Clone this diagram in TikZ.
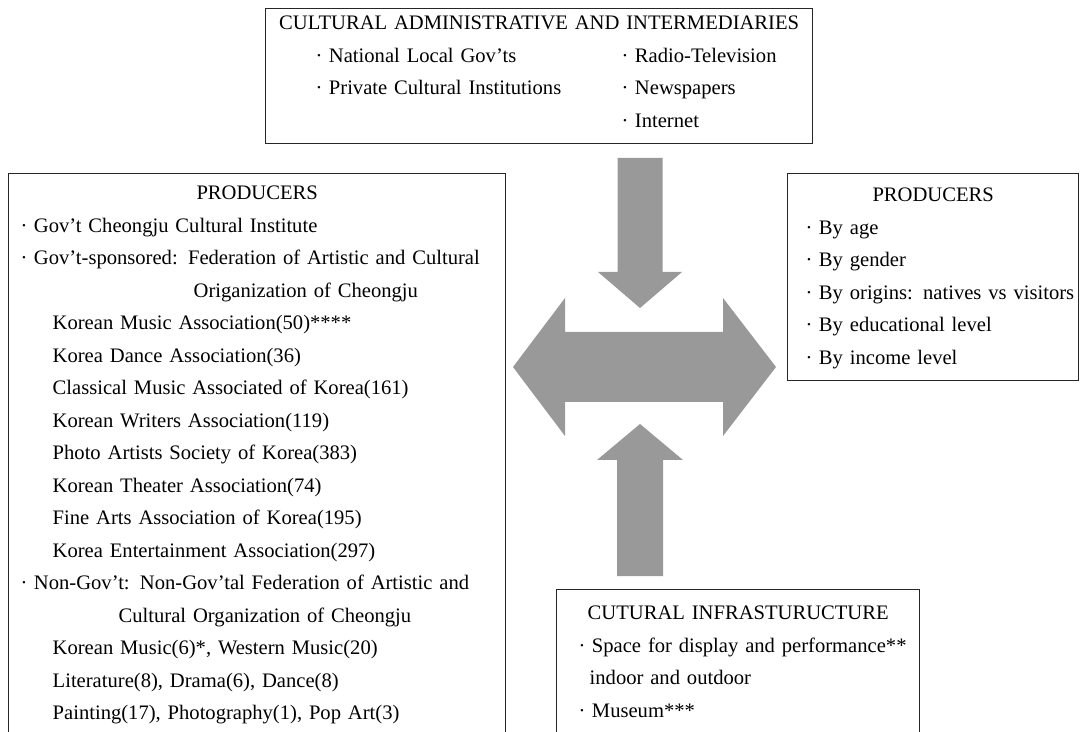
\documentclass[tikz,border=0pt]{standalone}
\usepackage{fontspec}
\setmainfont{Liberation Serif}
\usetikzlibrary{positioning}

\newcommand{\itm}{·\kern3.2pt}

\begin{document}
\begin{tikzpicture}[x=0.5pt,y=-0.5pt,
    panel/.style={draw=black!85,line width=0.7pt,anchor=north west,
      align=left,inner xsep=#1,inner ysep=0pt,
      font=\fontsize{10.3}{16.25}\selectfont},
    blockarrow/.style={fill=black!40,draw=none}]
  \clip (0,0) rectangle (1082,732);
  \fill[white] (0,0) rectangle (1082,732);

  % boxes
  \node[panel=7pt,text width=259.5pt,text height=10.5pt,text depth=57pt]
    (admin) at (265,8) {%
    \makebox[\linewidth]{CULTURAL ADMINISTRATIVE AND INTERMEDIARIES}\\
    \hspace*{18pt}\makebox[153pt][l]{\itm National Local Gov’ts}\itm Radio-Television\\
    \hspace*{18pt}\makebox[153pt][l]{\itm Private Cultural Institutions}\itm Newspapers\\
    \hspace*{18pt}\makebox[153pt][l]{}\itm Internet};

  \node[panel=6pt,text width=236.5pt,text height=13pt,text depth=290pt]
    (prod) at (8,173) {%
    \makebox[\linewidth]{PRODUCERS}\\
    \itm Gov’t Cheongju Cultural Institute\\
    \makebox[\linewidth][s]{\itm Gov’t-sponsored: Federation of Artistic and Cultural}\\
    \hspace*{86.5pt}Origanization of Cheongju\\
    \hspace*{16pt}Korean Music Association(50)****\\
    \hspace*{16pt}Korea Dance Association(36)\\
    \hspace*{16pt}Classical Music Associated of Korea(161)\\
    \hspace*{16pt}Korean Writers Association(119)\\
    \hspace*{16pt}Photo Artists Society of Korea(383)\\
    \hspace*{16pt}Korean Theater Association(74)\\
    \hspace*{16pt}Fine Arts Association of Korea(195)\\
    \hspace*{16pt}Korea Entertainment Association(297)\\
    \makebox[\linewidth][s]{\itm Non-Gov’t: Non-Gov’tal Federation of Artistic and}\\
    \hspace*{49pt}Cultural Organization of Cheongju\\
    \hspace*{16pt}Korean Music(6)*, Western Music(20)\\
    \hspace*{16pt}Literature(8), Drama(6), Dance(8)\\
    \hspace*{16pt}Painting(17), Photography(1), Pop Art(3)};

  \node[panel=9pt,text width=127.5pt,text height=14pt,text depth=89.5pt]
    (aud) at (787,173) {%
    \makebox[\linewidth]{PRODUCERS}\\
    \itm By age\\
    \itm By gender\\
    \mbox{\itm By origins: natives vs visitors}\\
    \itm By educational level\\
    \itm By income level};

  \node[panel=11pt,text width=159.5pt,text height=15pt,text depth=80pt]
    (infra) at (556,589) {%
    \makebox[\linewidth]{CUTURAL INFRASTURUCTURE}\\
    \mbox{\itm Space for display and performance**}\\
    \hspace*{5.5pt}indoor and outdoor\\
    \itm Museum***};

  % block arrows
  \coordinate (downtip) at (640,308);
  \coordinate (uptip) at (640,424);
  \coordinate (lefttip) at (513,367);
  \coordinate (righttip) at (776,367);

  \fill[blockarrow] (downtip) -- ++(42,-36) -- ++(-19.5,0) -- ++(0,-114)
    -- ++(-45,0) -- ++(0,114) -- ++(-19.5,0) -- cycle;
  \fill[blockarrow] (uptip) -- ++(43,36) -- ++(-20,0) -- ++(0,116)
    -- ++(-46,0) -- ++(0,-116) -- ++(-20,0) -- cycle;
  \fill[blockarrow] (lefttip) -- ++(52,-69) -- ++(0,34) -- ++(158,0)
    -- ++(0,-34) -- (righttip) -- ++(-53,69) -- ++(0,-34) -- ++(-158,0)
    -- ++(0,34) -- cycle;
\end{tikzpicture}
\end{document}
